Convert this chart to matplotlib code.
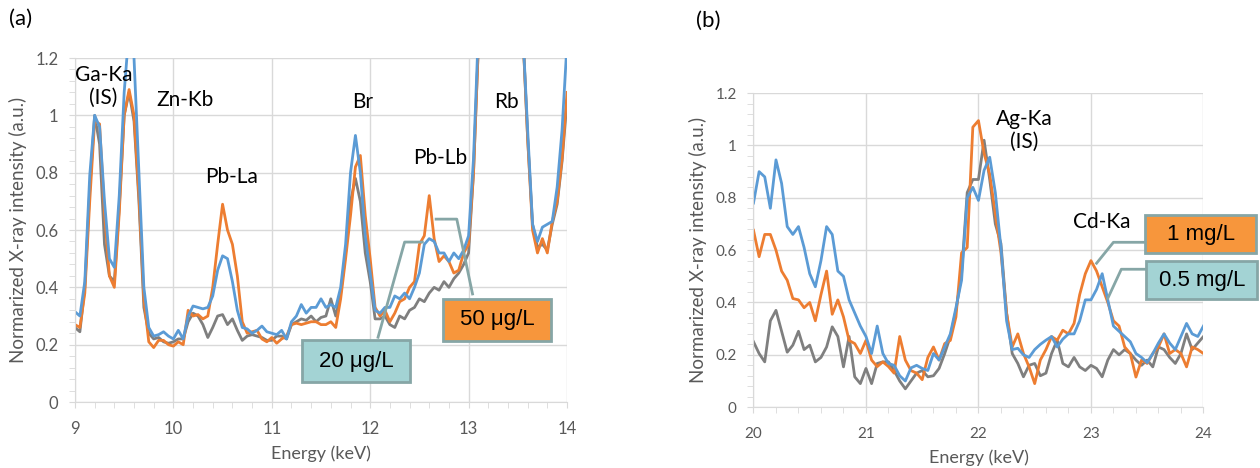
import numpy as np
import matplotlib
matplotlib.use("Agg")
import matplotlib.pyplot as plt
from matplotlib.patches import Rectangle
from matplotlib.ticker import MultipleLocator

plt.rcParams['font.family'] = ['Lato', 'DejaVu Sans']

# ---- panel (a): Pb, 9-14 keV ----
energy_a = np.round(np.arange(9.0, 14.001, 0.05), 2)
blank_a = [0.26, 0.245, 0.40, 0.74, 1.00, 0.90, 0.55, 0.44, 0.42, 0.68,
           1.00, 1.08, 0.98, 0.70, 0.33, 0.24, 0.22, 0.225, 0.21, 0.205,
           0.21, 0.22, 0.22, 0.28, 0.31, 0.30, 0.27, 0.225, 0.26, 0.30,
           0.305, 0.27, 0.29, 0.25, 0.215, 0.23, 0.235, 0.23, 0.225, 0.215,
           0.215, 0.23, 0.23, 0.22, 0.27, 0.28, 0.29, 0.285, 0.30, 0.28,
           0.295, 0.30, 0.36, 0.30, 0.38, 0.52, 0.70, 0.78, 0.70, 0.52,
           0.42, 0.29, 0.29, 0.30, 0.27, 0.26, 0.30, 0.29, 0.32, 0.33,
           0.36, 0.35, 0.38, 0.40, 0.39, 0.42, 0.40, 0.43, 0.45, 0.48,
           0.52, 0.80, 1.25, 1.6, 1.6, 1.6, 1.6, 1.6, 1.6, 1.6,
           1.6, 1.30, 0.92, 0.62, 0.54, 0.55, 0.53, 0.62, 0.69, 0.84,
           1.05]
pb50_a = [0.27, 0.26, 0.38, 0.70, 0.98, 0.97, 0.66, 0.44, 0.40, 0.66,
          1.00, 1.09, 1.00, 0.72, 0.36, 0.21, 0.19, 0.215, 0.215, 0.20,
          0.195, 0.21, 0.20, 0.32, 0.30, 0.305, 0.29, 0.30, 0.40, 0.55,
          0.69, 0.60, 0.55, 0.44, 0.28, 0.24, 0.245, 0.25, 0.22, 0.21,
          0.225, 0.205, 0.22, 0.23, 0.27, 0.275, 0.27, 0.275, 0.28, 0.28,
          0.27, 0.27, 0.28, 0.26, 0.36, 0.50, 0.65, 0.82, 0.86, 0.65,
          0.50, 0.33, 0.30, 0.32, 0.28, 0.31, 0.35, 0.36, 0.40, 0.42,
          0.55, 0.58, 0.72, 0.57, 0.49, 0.51, 0.49, 0.45, 0.46, 0.52,
          0.55, 0.80, 1.25, 1.6, 1.6, 1.6, 1.6, 1.6, 1.6, 1.6,
          1.6, 1.30, 0.92, 0.60, 0.52, 0.57, 0.52, 0.63, 0.70, 0.85,
          1.08]
pb20_a = [0.315, 0.30, 0.42, 0.79, 1.00, 0.96, 0.70, 0.50, 0.47, 0.72,
          1.08, 1.30, 1.20, 0.80, 0.40, 0.26, 0.23, 0.235, 0.245, 0.23,
          0.22, 0.25, 0.22, 0.30, 0.335, 0.33, 0.325, 0.33, 0.37, 0.46,
          0.51, 0.50, 0.42, 0.32, 0.26, 0.255, 0.24, 0.25, 0.265, 0.245,
          0.24, 0.235, 0.25, 0.22, 0.28, 0.30, 0.34, 0.31, 0.33, 0.33,
          0.36, 0.33, 0.34, 0.33, 0.40, 0.55, 0.80, 0.93, 0.80, 0.58,
          0.45, 0.32, 0.31, 0.33, 0.33, 0.37, 0.36, 0.38, 0.36, 0.40,
          0.45, 0.55, 0.57, 0.56, 0.52, 0.52, 0.49, 0.52, 0.50, 0.53,
          0.58, 0.85, 1.30, 1.6, 1.6, 1.6, 1.6, 1.6, 1.6, 1.6,
          1.6, 1.30, 0.95, 0.62, 0.56, 0.61, 0.62, 0.63, 0.75, 0.95,
          1.25]

# ---- panel (b): Cd, 20-24 keV ----
energy_b = np.round(np.arange(20.0, 24.001, 0.05), 2)
blank_b = [0.25, 0.205, 0.173, 0.33, 0.37, 0.29, 0.21, 0.237, 0.29, 0.22,
           0.237, 0.173, 0.19, 0.23, 0.307, 0.27, 0.154, 0.27, 0.116, 0.09,
           0.148, 0.09, 0.167, 0.173, 0.173, 0.14, 0.10, 0.07, 0.10, 0.13,
           0.14, 0.116, 0.12, 0.148, 0.205, 0.27, 0.37, 0.51, 0.82, 0.87,
           0.87, 1.02, 0.87, 0.70, 0.625, 0.36, 0.205, 0.167, 0.116, 0.16,
           0.167, 0.12, 0.13, 0.205, 0.256, 0.167, 0.154, 0.19, 0.154, 0.14,
           0.16, 0.148, 0.116, 0.18, 0.22, 0.20, 0.22, 0.205, 0.18, 0.16,
           0.18, 0.154, 0.23, 0.22, 0.19, 0.167, 0.205, 0.28, 0.22, 0.245,
           0.27]
cd1_b = [0.676, 0.575, 0.66, 0.66, 0.60, 0.52, 0.485, 0.415, 0.41, 0.38,
         0.40, 0.33, 0.43, 0.52, 0.355, 0.41, 0.345, 0.255, 0.243, 0.205,
         0.255, 0.18, 0.155, 0.173, 0.155, 0.13, 0.27, 0.18, 0.14, 0.13,
         0.105, 0.19, 0.23, 0.18, 0.243, 0.255, 0.345, 0.59, 0.61, 1.07,
         1.095, 0.97, 0.89, 0.74, 0.59, 0.36, 0.23, 0.28, 0.205, 0.154,
         0.09, 0.18, 0.22, 0.27, 0.256, 0.294, 0.28, 0.32, 0.43, 0.51,
         0.56, 0.52, 0.46, 0.40, 0.33, 0.31, 0.23, 0.205, 0.115, 0.18,
         0.167, 0.205, 0.23, 0.28, 0.205, 0.22, 0.205, 0.154, 0.23, 0.22,
         0.205]
cd05_b = [0.78, 0.90, 0.88, 0.76, 0.945, 0.855, 0.69, 0.66, 0.69, 0.61,
          0.51, 0.46, 0.56, 0.69, 0.66, 0.52, 0.50, 0.41, 0.36, 0.31,
          0.27, 0.205, 0.31, 0.205, 0.167, 0.16, 0.12, 0.10, 0.15, 0.16,
          0.148, 0.14, 0.205, 0.18, 0.23, 0.28, 0.38, 0.485, 0.80, 0.84,
          0.79, 0.905, 0.955, 0.82, 0.61, 0.33, 0.22, 0.225, 0.20, 0.19,
          0.22, 0.24, 0.256, 0.27, 0.23, 0.26, 0.28, 0.28, 0.33, 0.41,
          0.41, 0.45, 0.51, 0.41, 0.31, 0.29, 0.27, 0.25, 0.205, 0.19,
          0.17, 0.205, 0.245, 0.28, 0.245, 0.22, 0.27, 0.32, 0.28, 0.27,
          0.31]

GRAY = "#7f7f7f"
ORANGE = "#ed7d31"
BLUE = "#5b9bd5"
TXT = "#595959"
GRID = "#d9d9d9"
LEAD = "#86a6a6"
TEAL = "#a3d3d4"
ORANGE_BOX = "#f7963c"


def style_axes(ax, xmin, xmax, ticksize):
    ax.set_xlim(xmin, xmax)
    ax.set_ylim(0, 1.2)
    ax.xaxis.set_major_locator(MultipleLocator(1))
    ax.xaxis.set_minor_locator(MultipleLocator(0.2))
    ax.yaxis.set_minor_locator(MultipleLocator(0.04))
    ax.set_yticks([0, 0.2, 0.4, 0.6, 0.8, 1.0, 1.2])
    ax.set_yticklabels(["0", "0.2", "0.4", "0.6", "0.8", "1", "1.2"])
    ax.grid(True, which="major", color=GRID, lw=1)
    ax.set_axisbelow(True)
    for s in ["top", "right"]:
        ax.spines[s].set_visible(False)
    for s in ["left", "bottom"]:
        ax.spines[s].set_color(GRID)
    ax.tick_params(which="both", direction="out", color=GRID, length=4,
                   labelcolor=TXT, labelsize=ticksize)
    ax.tick_params(axis="x", pad=10)
    ax.tick_params(axis="y", pad=8)
    ax.set_xlabel("Energy (keV)", color=TXT, fontsize=13, labelpad=6)
    ax.set_ylabel("Normarized X-ray intensity (a.u.)", color=TXT, fontsize=13.5,
                  labelpad=6)


def callout(ax, text, x0, y0, w, h, face, pts):
    ax.plot([p[0] for p in pts], [p[1] for p in pts], color=LEAD, lw=2,
            clip_on=False, zorder=4)
    ax.add_patch(Rectangle((x0, y0), w, h, facecolor=face, edgecolor=LEAD,
                           lw=2, clip_on=False, zorder=5))
    ax.text(x0 + w / 2, y0 + h / 2, text, ha="center", va="center",
            fontsize=16, family=["Liberation Sans", "DejaVu Sans"], zorder=6)


fig = plt.figure(figsize=(12.6, 4.68), dpi=100)

ax1 = fig.add_axes([0.0595, 0.141, 0.3905, 0.735])
ax1.plot(energy_a, blank_a, color=GRAY, lw=2)
ax1.plot(energy_a, pb50_a, color=ORANGE, lw=2)
ax1.plot(energy_a, pb20_a, color=BLUE, lw=2)
style_axes(ax1, 9, 14, 12)

for txt, x, y in [("Ga-Ka\n(IS)", 9.29, 1.10), ("Zn-Kb", 10.12, 1.053),
                  ("Pb-La", 10.59, 0.785), ("Br", 11.92, 1.046),
                  ("Pb-Lb", 12.71, 0.85), ("Rb", 13.38, 1.046)]:
    ax1.text(x, y, txt, ha="center", va="center", fontsize=15,
             linespacing=1.2, color="black")

callout(ax1, "20 \u03bcg/L", 11.31, 0.07, 1.09, 0.146, TEAL,
        [(12.08, 0.226), (12.35, 0.558), (12.53, 0.558)])
callout(ax1, "50 \u03bcg/L", 12.74, 0.213, 1.10, 0.147, ORANGE_BOX,
        [(13.04, 0.377), (12.88, 0.638), (12.67, 0.638)])

ax2 = fig.add_axes([0.598, 0.130, 0.3571, 0.671])
ax2.plot(energy_b, blank_b, color=GRAY, lw=2)
ax2.plot(energy_b, cd1_b, color=ORANGE, lw=2)
ax2.plot(energy_b, cd05_b, color=BLUE, lw=2)
style_axes(ax2, 20, 24, 11)

ax2.text(22.41, 1.058, "Ag-Ka\n(IS)", ha="center", va="center", fontsize=15,
         linespacing=1.2)
ax2.text(23.10, 0.707, "Cd-Ka", ha="center", va="center", fontsize=15)

callout(ax2, "1 mg/L", 23.48, 0.588, 0.99, 0.146, ORANGE_BOX,
        [(23.05, 0.55), (23.20, 0.63), (23.48, 0.63)])
callout(ax2, "0.5 mg/L", 23.49, 0.413, 0.99, 0.145, TEAL,
        [(23.15, 0.416), (23.27, 0.527), (23.49, 0.527)])

fig.text(0.007, 0.96, "(a)", fontsize=16, va="center")
fig.text(0.552, 0.955, "(b)", fontsize=16, va="center")

fig.savefig("out.png", dpi=100)
